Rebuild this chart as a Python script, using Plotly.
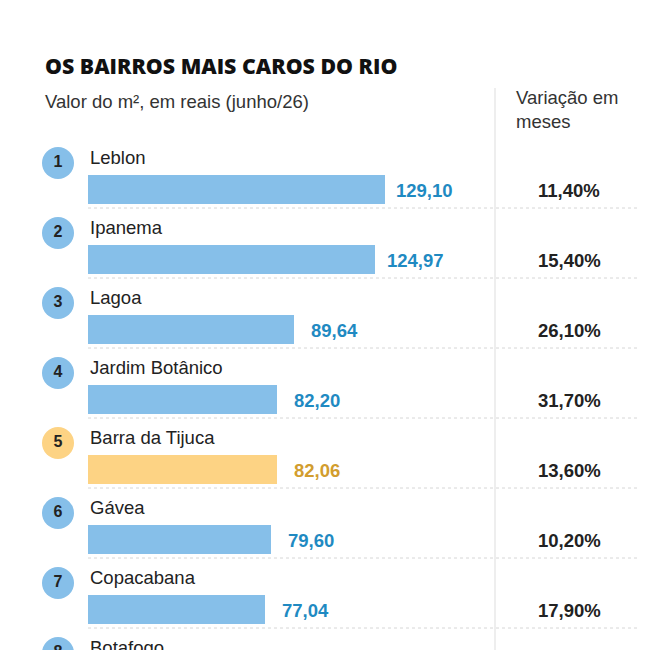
import plotly.graph_objects as go

bairros = ["Leblon", "Ipanema", "Lagoa", "Jardim Botânico", "Barra da Tijuca",
           "Gávea", "Copacabana", "Botafogo"]
valor_m2 = [129.10, 124.97, 89.64, 82.20, 82.06, 79.60, 77.04, None]
valor_txt = ["129,10", "124,97", "89,64", "82,20", "82,06", "79,60", "77,04", None]
variacao = ["11,40%", "15,40%", "26,10%", "31,70%", "13,60%", "10,20%", "17,90%", None]
destaque = "Barra da Tijuca"

W, H = 672, 650
OFF = 8                # page body margin shifts the plot by this much
PX_PER_UNIT = 2.3      # bar length scale
X0 = 88 - OFF          # bar start (px)
ROW0 = 189.5 - OFF     # centre of first bar (px)
PITCH = 70             # px per row

BLUE_BAR = "#86bfe9"
BLUE_TXT = "#1f8ac2"
ORANGE_BAR = "#fdd384"
ORANGE_TXT = "#d29d2e"
FONT = "Liberation Sans, Arial, sans-serif"
FS = 18.5


def px(x):
    return (x - OFF) / W


def py(y):
    return 1 - (y - OFF) / H


rows = list(range(len(bairros)))
bar_colors = [ORANGE_BAR if b == destaque else BLUE_BAR for b in bairros]
txt_colors = [ORANGE_TXT if b == destaque else BLUE_TXT for b in bairros]

fig = go.Figure()

fig.add_trace(
    go.Bar(
        x=valor_m2,
        y=rows,
        orientation="h",
        width=29 / PITCH,
        marker=dict(color=bar_colors, line=dict(width=0)),
        hoverinfo="skip",
    )
)

# rank circles
circle_x = (58 - OFF - X0) / PX_PER_UNIT
fig.add_trace(
    go.Scatter(
        x=[circle_x] * len(rows),
        y=[r - 26.5 / PITCH for r in rows],
        mode="markers+text",
        marker=dict(size=32, color=bar_colors, line=dict(width=0)),
        text=[f"<b>{r + 1}</b>" for r in rows],
        textposition="middle center",
        textfont=dict(family=FONT, size=16, color="#222222"),
        hoverinfo="skip",
    )
)

for r, (nome, v, vt, pct, tc) in enumerate(zip(bairros, valor_m2, valor_txt, variacao, txt_colors)):
    fig.add_annotation(
        x=0, y=r - 32.5 / PITCH, text=nome, showarrow=False,
        xanchor="left", yanchor="middle",
        font=dict(family=FONT, size=FS, color="#222222"),
    )
    if v is None:
        continue
    fig.add_annotation(
        x=v, y=r, xshift=40, yshift=-1, text=f"<b>{vt}</b>", showarrow=False,
        xanchor="center", yanchor="middle",
        font=dict(family=FONT, size=FS, color=tc),
    )
    fig.add_annotation(
        x=px(569), xref="paper", y=r, yshift=-1, text=f"<b>{pct}</b>", showarrow=False,
        xanchor="center", yanchor="middle",
        font=dict(family=FONT, size=FS, color="#222222"),
    )
    fig.add_shape(
        type="line", xref="paper", yref="y",
        x0=px(88), x1=px(638), y0=r + 18.5 / PITCH, y1=r + 18.5 / PITCH,
        line=dict(color="#d6d6d6", width=1, dash="dot"),
    )

# column divider
fig.add_shape(
    type="line", xref="paper", yref="paper",
    x0=px(495), x1=px(495), y0=py(88), y1=0,
    line=dict(color="#dddddd", width=1),
)

fig.add_annotation(
    x=px(43), y=py(66), xref="paper", yref="paper",
    text="OS BAIRROS MAIS CAROS DO RIO", showarrow=False,
    xanchor="left", yanchor="middle",
    font=dict(family="Open Sans, sans-serif", size=21.3, weight=800, color="#111111"),
)
fig.add_annotation(
    x=px(43), y=py(101), xref="paper", yref="paper",
    text="Valor do m², em reais (junho/26)", showarrow=False,
    xanchor="left", yanchor="middle",
    font=dict(family=FONT, size=FS, color="#333333"),
)
fig.add_annotation(
    x=px(514), y=py(85), xref="paper", yref="paper",
    text="Variação em<br>meses", showarrow=False, align="left",
    xanchor="left", yanchor="top",
    font=dict(family=FONT, size=FS, color="#333333"),
)

fig.update_xaxes(
    range=[-X0 / PX_PER_UNIT, (W - X0) / PX_PER_UNIT],
    visible=False, fixedrange=True,
)
fig.update_yaxes(
    range=[(H - ROW0) / PITCH, -ROW0 / PITCH],
    visible=False, fixedrange=True,
)

fig.update_layout(
    width=W, height=H,
    margin=dict(l=0, r=0, t=0, b=0),
    paper_bgcolor="white", plot_bgcolor="white",
    showlegend=False,
    bargap=0,
)

fig.write_html("out.html", config=dict(displayModeBar=False))
